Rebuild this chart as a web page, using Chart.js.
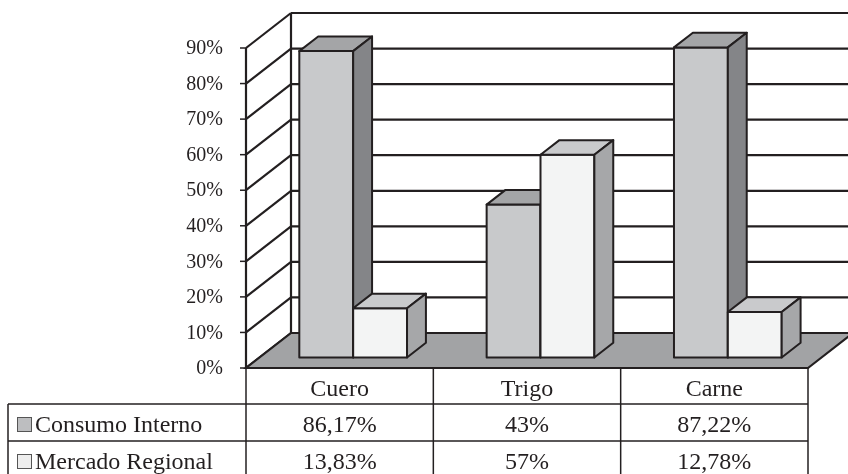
<!DOCTYPE html>
<html>
<head>
<meta charset="utf-8">
<script src="https://cdn.jsdelivr.net/npm/chart.js@4/dist/chart.umd.min.js"></script>
<style>
body { margin: 0; background: #fff; }
</style>
</head>
<body>
<canvas id="myChart" width="848" height="474"></canvas>
<script>
var categories = ['Cuero', 'Trigo', 'Carne'];
var consumoInterno = [86.17, 43, 87.22];
var mercadoRegional = [13.83, 57, 12.78];
var seriesNames = ['Consumo Interno', 'Mercado Regional'];
var yTicks = [0, 10, 20, 30, 40, 50, 60, 70, 80, 90];

// depth of the floor and where the boxes sit inside it
var DX = 45, DY = 35;
var F0 = 0.3, F1 = 0.72;
var INK = '#231f20';
var FONT = '"Liberation Serif", "Times New Roman", serif';

var faces = [
    { front: '#c8c9cb', top: '#a4a5a7', side: '#848588', swatch: '#bdbec0' },
    { front: '#f3f4f4', top: '#c9cacc', side: '#a6a7a9', swatch: '#ededed' }
];

function pct(v) {
    return String(v).replace('.', ',') + '%';
}

function poly(c, pts, fill) {
    c.beginPath();
    c.moveTo(pts[0][0], pts[0][1]);
    for (var i = 1; i < pts.length; i++) c.lineTo(pts[i][0], pts[i][1]);
    c.closePath();
    if (fill) { c.fillStyle = fill; c.fill(); }
    c.stroke();
}

function line(c, x0, y0, x1, y1) {
    c.beginPath();
    c.moveTo(x0, y0);
    c.lineTo(x1, y1);
    c.stroke();
}

var box3d = {
    id: 'box3d',
    beforeDatasetsDraw: function (chart) {
        var c = chart.ctx, a = chart.chartArea, ys = chart.scales.y;
        var top = ys.getPixelForValue(yTicks[yTicks.length - 1]);
        c.save();
        c.strokeStyle = INK;
        c.lineWidth = 2.2;
        // walls
        line(c, a.left, top, a.left, a.bottom);
        line(c, a.left + DX, top - DY, a.left + DX, a.bottom - DY);
        yTicks.forEach(function (v) {
            var y = ys.getPixelForValue(v);
            line(c, a.left, y, a.left + DX, y - DY);
            line(c, a.left + DX, y - DY, a.right + DX, y - DY);
        });
        // floor
        poly(c, [[a.left, a.bottom], [a.right, a.bottom], [a.right + DX, a.bottom - DY], [a.left + DX, a.bottom - DY]], '#a2a3a5');
        c.restore();
    },
    afterDatasetsDraw: function (chart) {
        var c = chart.ctx;
        c.save();
        c.strokeStyle = INK;
        c.lineWidth = 2;
        c.lineJoin = 'round';
        var ox0 = F0 * DX, oy0 = -F0 * DY, ox1 = F1 * DX, oy1 = -F1 * DY;
        for (var i = 0; i < categories.length; i++) {
            for (var d = 0; d < chart.data.datasets.length; d++) {
                var el = chart.getDatasetMeta(d).data[i];
                var x0 = el.x - el.width / 2, x1 = el.x + el.width / 2;
                var yT = el.y, yB = el.base;
                var f = faces[d];
                poly(c, [[x0 + ox0, yT + oy0], [x1 + ox0, yT + oy0], [x1 + ox0, yB + oy0], [x0 + ox0, yB + oy0]], f.front);
                poly(c, [[x0 + ox0, yT + oy0], [x1 + ox0, yT + oy0], [x1 + ox1, yT + oy1], [x0 + ox1, yT + oy1]], f.top);
                poly(c, [[x1 + ox0, yT + oy0], [x1 + ox1, yT + oy1], [x1 + ox1, yB + oy1], [x1 + ox0, yB + oy0]], f.side);
            }
        }
        c.restore();
    },
    afterDraw: function (chart) {
        var c = chart.ctx, a = chart.chartArea, ys = chart.scales.y;
        c.save();
        c.strokeStyle = INK;
        c.fillStyle = INK;
        // y ticks
        c.lineWidth = 1.5;
        c.font = '20px ' + FONT;
        c.textAlign = 'right';
        c.textBaseline = 'middle';
        yTicks.forEach(function (v) {
            var y = ys.getPixelForValue(v);
            line(c, a.left - 6, y, a.left, y);
            c.fillText(v + '%', a.left - 23, y + 1);
        });
        // data table
        var rows = [a.bottom, a.bottom + 36, a.bottom + 73, a.bottom + 111];
        var w = (a.right - a.left) / categories.length;
        var legLeft = 8;
        c.lineWidth = 1.5;
        for (var k = 0; k <= categories.length; k++) {
            line(c, a.left + k * w, rows[0], a.left + k * w, rows[3]);
        }
        line(c, legLeft, rows[1], legLeft, rows[3]);
        line(c, legLeft, rows[1], a.right, rows[1]);
        line(c, legLeft, rows[2], a.right, rows[2]);
        line(c, legLeft, rows[3], a.right, rows[3]);
        c.font = '24px ' + FONT;
        c.textAlign = 'center';
        c.textBaseline = 'alphabetic';
        var series = [consumoInterno, mercadoRegional];
        for (var i = 0; i < categories.length; i++) {
            var cx = a.left + (i + 0.5) * w;
            c.fillText(categories[i], cx, rows[0] + 28);
            c.fillText(pct(series[0][i]), cx, rows[1] + 28);
            c.fillText(pct(series[1][i]), cx, rows[2] + 28);
        }
        c.textAlign = 'left';
        for (var s = 0; s < seriesNames.length; s++) {
            var by = rows[s + 1] + 28;
            c.lineWidth = 1;
            c.strokeStyle = '#555';
            c.fillStyle = faces[s].swatch;
            c.fillRect(17.5, by - 14.5, 14, 14);
            c.strokeRect(17.5, by - 14.5, 14, 14);
            c.fillStyle = INK;
            c.fillText(seriesNames[s], 35, by);
        }
        c.restore();
    }
};

var ctx = document.getElementById('myChart').getContext('2d');
var myChart = new Chart(ctx, {
    type: 'bar',
    data: {
        labels: categories,
        datasets: [{
            label: seriesNames[0],
            data: consumoInterno,
            backgroundColor: 'rgba(0,0,0,0)',
            borderWidth: 0
        }, {
            label: seriesNames[1],
            data: mercadoRegional,
            backgroundColor: 'rgba(0,0,0,0)',
            borderWidth: 0
        }]
    },
    options: {
        responsive: false,
        animation: false,
        layout: {
            padding: { left: 246, right: 40, top: 48, bottom: 106 }
        },
        datasets: {
            bar: { categoryPercentage: 0.575, barPercentage: 1 }
        },
        plugins: {
            legend: { display: false },
            tooltip: { enabled: false }
        },
        scales: {
            x: { display: false },
            y: { display: false, min: 0, max: 90 }
        }
    },
    plugins: [box3d]
});
</script>
</body>
</html>
